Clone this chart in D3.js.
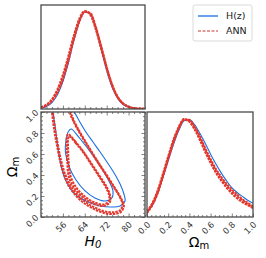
<!DOCTYPE html>
<html>
<head>
<meta charset="utf-8">
<script src="https://cdn.jsdelivr.net/npm/d3@7"></script>
<style>
body { margin: 0; background: #fff; }
text { font-family: "DejaVu Sans", sans-serif; }
</style>
</head>
<body>
<div id="chart"></div>
<script>
// --- 1D posterior of H0 ---
const h0Grid = [48, 50, 52, 54, 56, 58, 60, 62, 64, 66, 68, 70, 72, 74, 76, 78, 80, 82, 84, 86];
const hzH0 = [0.009, 0.026, 0.066, 0.145, 0.28, 0.47, 0.70, 0.89, 0.99, 0.97, 0.82, 0.61, 0.39, 0.22, 0.107, 0.046, 0.017, 0.006, 0.002, 0.0005];
const annH0Runs = [
    [0.015, 0.04, 0.09, 0.18, 0.32, 0.51, 0.72, 0.90, 0.99, 0.97, 0.83, 0.63, 0.42, 0.24, 0.12, 0.055, 0.022, 0.008, 0.003, 0.001],
    [0.012, 0.035, 0.08, 0.165, 0.30, 0.49, 0.71, 0.89, 0.99, 0.98, 0.84, 0.64, 0.43, 0.25, 0.125, 0.057, 0.023, 0.008, 0.003, 0.001],
    [0.018, 0.045, 0.10, 0.20, 0.35, 0.54, 0.75, 0.92, 1.00, 0.96, 0.81, 0.61, 0.41, 0.24, 0.12, 0.055, 0.022, 0.008, 0.003, 0.001]
];

// --- 1D posterior of Omega_m ---
const omGrid = [0, 0.05, 0.1, 0.15, 0.2, 0.25, 0.3, 0.35, 0.4, 0.45, 0.5, 0.55, 0.6, 0.65, 0.7, 0.75, 0.8, 0.85, 0.9, 0.95, 1.0];
const hzOm = [0.05, 0.12, 0.24, 0.40, 0.57, 0.74, 0.88, 0.98, 0.99, 0.94, 0.85, 0.75, 0.64, 0.54, 0.45, 0.37, 0.30, 0.25, 0.21, 0.17, 0.14];
const annOmRuns = [
    [0.05, 0.13, 0.25, 0.42, 0.60, 0.77, 0.91, 0.99, 0.98, 0.91, 0.80, 0.68, 0.57, 0.47, 0.39, 0.32, 0.26, 0.21, 0.17, 0.13, 0.10],
    [0.04, 0.12, 0.24, 0.41, 0.59, 0.76, 0.90, 0.99, 0.99, 0.92, 0.82, 0.70, 0.59, 0.49, 0.41, 0.34, 0.28, 0.23, 0.18, 0.145, 0.11],
    [0.06, 0.14, 0.27, 0.44, 0.62, 0.79, 0.92, 1.00, 0.97, 0.89, 0.78, 0.66, 0.55, 0.45, 0.37, 0.30, 0.24, 0.19, 0.15, 0.12, 0.09]
];

// --- 2D contours [H0, Omega_m] ---
const hzOuter = [[52.0, 1.07], [52.4, 0.99], [53.1, 0.876], [53.8, 0.733], [54.6, 0.59], [55.7, 0.448], [57.5, 0.324], [60.8, 0.21], [65.2, 0.143],
    [69.6, 0.105], [73.9, 0.095], [76.9, 0.105], [78.7, 0.152], [78.3, 0.219], [76.9, 0.314], [74.7, 0.419], [72.1, 0.524], [69.6, 0.619],
    [67.0, 0.714], [64.4, 0.81], [62.2, 0.905], [60.4, 0.99], [58.6, 1.08]];
const hzInner = [[59.0, 0.838], [61.5, 0.771], [64.4, 0.676], [67.4, 0.571], [70.3, 0.457], [72.8, 0.343], [74.3, 0.248], [73.9, 0.181],
    [71.4, 0.152], [67.7, 0.181], [64.1, 0.248], [60.8, 0.352], [58.3, 0.476], [56.9, 0.619], [57.2, 0.743], [57.9, 0.81]];
const annOuterRuns = [
    [[51.3, 1.08], [52.0, 0.99], [52.7, 0.848], [53.8, 0.686], [54.9, 0.543], [56.4, 0.40], [58.6, 0.276], [62.3, 0.162], [66.6, 0.086],
     [71.0, 0.038], [74.7, 0.029], [77.2, 0.048], [78.3, 0.105], [77.2, 0.181], [75.0, 0.276], [72.5, 0.381], [69.6, 0.495], [66.6, 0.619],
     [63.7, 0.743], [61.2, 0.857], [59.3, 0.962], [57.9, 1.08]],
    [[51.7, 1.08], [52.4, 0.99], [53.1, 0.848], [54.2, 0.686], [55.3, 0.543], [56.8, 0.41], [59.0, 0.29], [62.6, 0.178], [66.8, 0.102],
     [71.0, 0.055], [74.5, 0.045], [76.8, 0.062], [77.8, 0.115], [76.8, 0.19], [74.6, 0.283], [72.1, 0.386], [69.2, 0.50], [66.2, 0.624],
     [63.3, 0.748], [60.8, 0.862], [58.9, 0.967], [57.5, 1.08]]
];
const annInnerRuns = [
    [[57.9, 0.79], [60.4, 0.724], [63.3, 0.629], [66.3, 0.514], [69.2, 0.40], [71.8, 0.295], [73.2, 0.21], [73.2, 0.143], [71.0, 0.105],
     [67.4, 0.124], [63.7, 0.181], [60.4, 0.267], [58.2, 0.381], [57.6, 0.524], [57.4, 0.667], [57.4, 0.752]],
    [[58.3, 0.77], [60.7, 0.705], [63.6, 0.61], [66.5, 0.495], [69.3, 0.383], [71.7, 0.282], [72.9, 0.205], [72.8, 0.152], [70.8, 0.12],
     [67.5, 0.14], [64.0, 0.196], [60.9, 0.28], [58.8, 0.39], [58.1, 0.53], [57.9, 0.66], [57.9, 0.74]]
];

const h0Ticks = [56, 64, 72, 80];
const omTicks = [0, 0.2, 0.4, 0.6, 0.8, 1.0];
const legendItems = ["H(z)", "ANN"];

const blue = "#1a6fe0";
const red = "#e2372c";
const frameColor = "#4a4a4a";

const svg = d3.select("#chart").append("svg")
    .attr("width", 266)
    .attr("height", 258);

// panel boxes
const pTop = { x0: 41, x1: 145, y0: 5, y1: 109 };
const pMid = { x0: 41, x1: 145, y0: 112, y1: 217 };
const pRight = { x0: 147, x1: 253, y0: 112, y1: 217 };

const xH = d3.scaleLinear().domain([48, 86]).range([pTop.x0, pTop.x1]);
const yDenTop = d3.scaleLinear().domain([0, 1.06]).range([pTop.y1, pTop.y0]);
const yOm = d3.scaleLinear().domain([0, 1]).range([pMid.y1, pMid.y0]);
const xOm = d3.scaleLinear().domain([0, 1]).range([pRight.x0, pRight.x1]);
const yDenRight = d3.scaleLinear().domain([0, 1.07]).range([pRight.y1, pRight.y0]);

function clipFor(id, p) {
    svg.append("clipPath").attr("id", id)
        .append("rect")
        .attr("x", p.x0).attr("y", p.y0)
        .attr("width", p.x1 - p.x0).attr("height", p.y1 - p.y0);
    return svg.append("g").attr("clip-path", `url(#${id})`);
}

const gTop = clipFor("clipTop", pTop);
const gMid = clipFor("clipMid", pMid);
const gRight = clipFor("clipRight", pRight);

// top panel: H0 density
const lineTop = d3.line()
    .x((d, i) => xH(h0Grid[i]))
    .y(d => yDenTop(d))
    .curve(d3.curveMonotoneX);

gTop.append("path")
    .attr("d", lineTop(hzH0))
    .attr("fill", "none")
    .attr("stroke", blue)
    .attr("stroke-width", 1.1);

annH0Runs.forEach(run => {
    gTop.append("path")
        .attr("d", lineTop(run))
        .attr("fill", "none")
        .attr("stroke", red)
        .attr("stroke-width", 2)
        .attr("stroke-dasharray", "2.5,1");
});

// middle panel: contours
const lineContour = d3.line()
    .x(d => xH(d[0]))
    .y(d => yOm(d[1]))
    .curve(d3.curveCatmullRomClosed);

[hzOuter, hzInner].forEach(c => {
    gMid.append("path")
        .attr("d", lineContour(c))
        .attr("fill", "none")
        .attr("stroke", blue)
        .attr("stroke-width", 1.1);
});

annOuterRuns.concat(annInnerRuns).forEach(c => {
    gMid.append("path")
        .attr("d", lineContour(c))
        .attr("fill", "none")
        .attr("stroke", red)
        .attr("stroke-width", 2)
        .attr("stroke-dasharray", "2.5,1");
});

// right panel: Omega_m density
const lineRight = d3.line()
    .x((d, i) => xOm(omGrid[i]))
    .y(d => yDenRight(d))
    .curve(d3.curveMonotoneX);

gRight.append("path")
    .attr("d", lineRight(hzOm))
    .attr("fill", "none")
    .attr("stroke", blue)
    .attr("stroke-width", 1.1);

annOmRuns.forEach(run => {
    gRight.append("path")
        .attr("d", lineRight(run))
        .attr("fill", "none")
        .attr("stroke", red)
        .attr("stroke-width", 2)
        .attr("stroke-dasharray", "2.5,1");
});

// ticks (pointing inward)
const h0Minor = d3.range(48, 87, 2).filter(v => !h0Ticks.includes(v));
const omMinor = d3.range(0, 1.001, 0.04).filter(v => !omTicks.some(t => Math.abs(t - v) < 1e-6));

function ticks(axisFn, scale, major, minor, translate) {
    const gMaj = svg.append("g").attr("transform", translate)
        .call(axisFn(scale).tickValues(major).tickSize(-3.5).tickFormat(""));
    const gMin = svg.append("g").attr("transform", translate)
        .call(axisFn(scale).tickValues(minor).tickSize(-2).tickFormat(""));
    [gMaj, gMin].forEach(g => {
        g.select(".domain").remove();
        g.selectAll("line").attr("stroke", frameColor).attr("stroke-width", 0.7);
    });
}

ticks(d3.axisBottom, xH, h0Ticks, h0Minor, `translate(0,${pTop.y1})`);
ticks(d3.axisBottom, xH, h0Ticks, h0Minor, `translate(0,${pMid.y1})`);
ticks(d3.axisTop, xH, h0Ticks, h0Minor, `translate(0,${pMid.y0})`);
ticks(d3.axisLeft, yOm, omTicks, omMinor, `translate(${pMid.x0},0)`);
ticks(d3.axisRight, yOm, omTicks, omMinor, `translate(${pMid.x1},0)`);
ticks(d3.axisBottom, xOm, omTicks, omMinor, `translate(0,${pRight.y1})`);

// frames
[pTop, pMid, pRight].forEach(p => {
    svg.append("rect")
        .attr("x", p.x0).attr("y", p.y0)
        .attr("width", p.x1 - p.x0).attr("height", p.y1 - p.y0)
        .attr("fill", "none")
        .attr("stroke", frameColor)
        .attr("stroke-width", 1.3);
});

// tick labels, rotated 45 degrees
const fmt = d3.format(".1f");

svg.selectAll(".xlabH")
    .data(h0Ticks)
    .enter().append("text")
    .attr("transform", d => `translate(${xH(d) + 2},${pMid.y1 + 6}) rotate(-45)`)
    .attr("text-anchor", "end")
    .attr("dy", "0.35em")
    .attr("font-size", "8.5px")
    .attr("fill", "#333")
    .text(d => d);

svg.selectAll(".xlabOm")
    .data(omTicks)
    .enter().append("text")
    .attr("transform", d => `translate(${xOm(d) + 2},${pRight.y1 + 6}) rotate(-45)`)
    .attr("text-anchor", "end")
    .attr("dy", "0.35em")
    .attr("font-size", "8.5px")
    .attr("fill", "#333")
    .text(d => fmt(d));

svg.selectAll(".ylabOm")
    .data(omTicks)
    .enter().append("text")
    .attr("transform", d => `translate(${pMid.x0 - 4},${yOm(d) - 1}) rotate(-45)`)
    .attr("text-anchor", "end")
    .attr("dy", "0.35em")
    .attr("font-size", "8.5px")
    .attr("fill", "#333")
    .text(d => fmt(d));

// axis titles
const h0Label = svg.append("text")
    .attr("x", 93).attr("y", 246)
    .attr("text-anchor", "middle")
    .attr("font-size", "14px")
    .attr("font-style", "italic");
h0Label.append("tspan").text("H");
h0Label.append("tspan").attr("font-size", "10px").attr("dy", "2").text("0");

const omLabel = svg.append("text")
    .attr("x", 199).attr("y", 247)
    .attr("text-anchor", "middle")
    .attr("font-size", "14px");
omLabel.append("tspan").text("Ω");
omLabel.append("tspan").attr("font-size", "10px").attr("dy", "2").text("m");

const omLabelY = svg.append("text")
    .attr("transform", `translate(17,167) rotate(-90)`)
    .attr("text-anchor", "middle")
    .attr("font-size", "14px");
omLabelY.append("tspan").text("Ω");
omLabelY.append("tspan").attr("font-size", "10px").attr("dy", "2").text("m");

// legend
const legend = svg.append("g").attr("transform", "translate(193,5)");
legend.append("rect")
    .attr("width", 59).attr("height", 36)
    .attr("rx", 2)
    .attr("fill", "#fff")
    .attr("stroke", "#d0d0d0")
    .attr("stroke-width", 0.8);

const legendG = legend.selectAll(".item")
    .data(legendItems)
    .enter().append("g")
    .attr("transform", (d, i) => `translate(0,${11 + i * 15})`);

legendG.append("line")
    .attr("x1", 5).attr("x2", 25)
    .attr("stroke", (d, i) => i === 0 ? blue : "#c8372c")
    .attr("stroke-width", (d, i) => i === 0 ? 1.3 : 1)
    .attr("stroke-dasharray", (d, i) => i === 0 ? null : "3,1.5");

legendG.append("text")
    .attr("x", 33)
    .attr("dy", "0.35em")
    .attr("font-size", "9.5px")
    .attr("fill", "#222")
    .text(d => d);
</script>
</body>
</html>
